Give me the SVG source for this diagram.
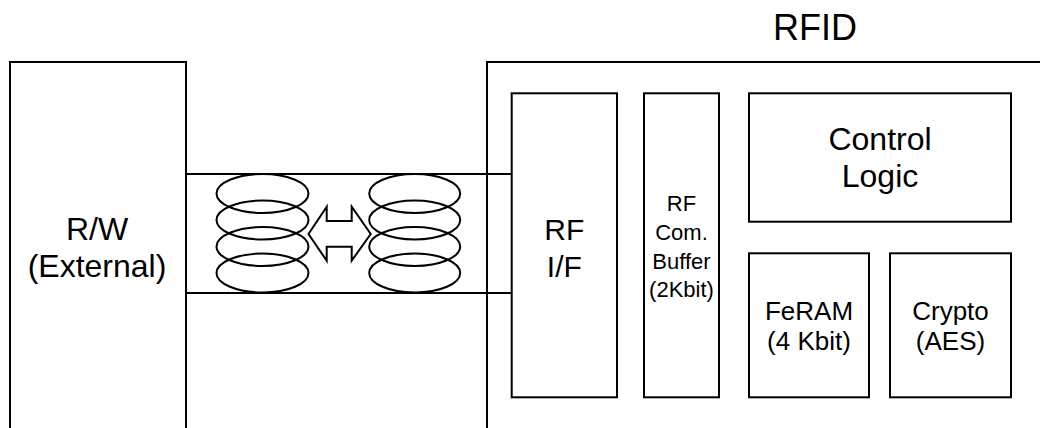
<svg xmlns="http://www.w3.org/2000/svg" width="1040" height="428" viewBox="0 0 1040 428">
<style>
.box{fill:#fff;stroke:#000;stroke-width:2}
.ln{fill:none;stroke:#000;stroke-width:2}
.coil{fill:none;stroke:#000;stroke-width:2}
text{font-family:"Liberation Sans",Arial,sans-serif;fill:#000;text-anchor:middle}
.t32{font-size:32px}
.t30{font-size:30px}
.t26{font-size:26px}
.t22{font-size:22px}
.t36{font-size:36px}
</style>
<rect width="1040" height="428" fill="#fff"/>
<g id="rw">
<path class="ln" d="M10,440 V62 H186 V440"/>
<text class="t32" x="97" y="240">R/W</text>
<text class="t32" x="97" y="277">(External)</text>
</g>
<g id="rfid">
<path class="ln" d="M487,440 V62 H1050"/>
<text class="t36" x="815" y="40">RFID</text>
</g>
<g id="connectors">
<line class="ln" x1="186" y1="174" x2="512" y2="174"/>
<line class="ln" x1="186" y1="293" x2="512" y2="293"/>
</g>
<g id="coil-left">
<ellipse class="coil" cx="262.5" cy="193.5" rx="46" ry="19.5"/>
<ellipse class="coil" cx="262.5" cy="220" rx="46" ry="19.5"/>
<ellipse class="coil" cx="262.5" cy="246.5" rx="46" ry="19.5"/>
<ellipse class="coil" cx="262.5" cy="273" rx="46" ry="19.5"/>
</g>
<g id="coil-right">
<ellipse class="coil" cx="414.7" cy="193.5" rx="45.5" ry="19.5"/>
<ellipse class="coil" cx="414.7" cy="220" rx="45.5" ry="19.5"/>
<ellipse class="coil" cx="414.7" cy="246.5" rx="45.5" ry="19.5"/>
<ellipse class="coil" cx="414.7" cy="273" rx="45.5" ry="19.5"/>
</g>
<g id="coupling-arrow">
<path class="box" d="M308.5,234 L326.7,206.7 V221 H351.7 V206.7 L370.7,234 L351.7,260.7 V246.7 H326.7 V260.7 Z"/>
</g>
<g id="rf-if">
<rect class="box" x="511.7" y="93.3" width="105.3" height="304"/>
<text class="t30" x="564.3" y="240">RF</text>
<text class="t30" x="564.3" y="277">I/F</text>
</g>
<g id="buffer">
<rect class="box" x="644" y="93.3" width="75" height="304"/>
<text class="t22" x="681.5" y="211">RF</text>
<text class="t22" x="681.5" y="240">Com.</text>
<text class="t22" x="681.5" y="268.5">Buffer</text>
<text class="t22" x="681.5" y="297">(2Kbit)</text>
</g>
<g id="control-logic">
<rect class="box" x="749" y="93.3" width="262" height="128.4"/>
<text class="t32" x="880" y="150">Control</text>
<text class="t32" x="880" y="187">Logic</text>
</g>
<g id="feram">
<rect class="box" x="749" y="253.3" width="120" height="144"/>
<text class="t26" x="809" y="320">FeRAM</text>
<text class="t26" x="809" y="350">(4 Kbit)</text>
</g>
<g id="crypto">
<rect class="box" x="890" y="253.3" width="121" height="144"/>
<text class="t26" x="950.5" y="320">Crypto</text>
<text class="t26" x="950.5" y="350">(AES)</text>
</g>
</svg>
